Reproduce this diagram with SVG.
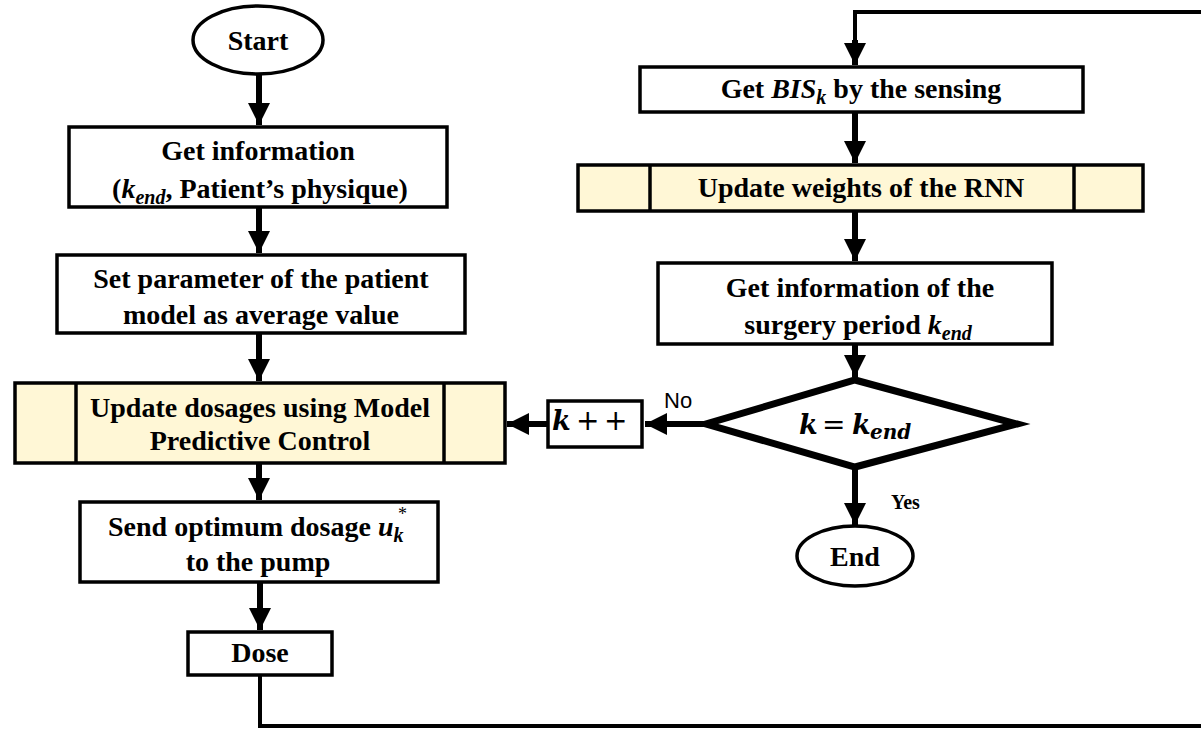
<svg xmlns="http://www.w3.org/2000/svg" width="1201" height="729" viewBox="0 0 1201 729">
<style>
.box{fill:#ffffff;stroke:#000;stroke-width:3.5}
.pp{fill:#fff7d6;stroke:#000;stroke-width:3.5}
.sep{stroke:#000;stroke-width:3.5}
.term{fill:#ffffff;stroke:#000;stroke-width:3.5}
.dia{fill:#ffffff;stroke:#000;stroke-width:7;stroke-linejoin:miter}
.t{font-family:"Liberation Serif","Times New Roman",serif;font-weight:bold;font-size:28px;fill:#000;text-anchor:middle}
.ts{font-family:"Liberation Serif","Times New Roman",serif;font-weight:bold;font-size:28px;fill:#000}
.m{font-style:italic}
.sub{font-size:20px}
.mm{font-family:"DejaVu Serif",serif;font-weight:bold;font-style:italic;font-size:27px;fill:#000}
.op{font-family:"DejaVu Sans",sans-serif;font-weight:normal;font-style:normal;font-size:28px}
.msub{font-size:20px}
.conn{fill:none;stroke:#000;stroke-width:6}
.thin{fill:none;stroke:#000;stroke-width:4}
.no{font-family:"Liberation Sans",Arial,sans-serif;font-size:22px;fill:#000}
.yes{font-family:"Liberation Serif","Times New Roman",serif;font-weight:bold;font-size:20px;fill:#000}
</style>
<defs>
<marker id="ahv" viewBox="0 0 10 10" refX="10" refY="5" markerWidth="22" markerHeight="22" markerUnits="userSpaceOnUse" orient="auto">
<path d="M0,0 L10,5 L0,10 z" fill="#000"/>
</marker>
</defs>

<g id="connectors">
<path class="conn" d="M259,75 V125" marker-end="url(#ahv)"/>
<path class="conn" d="M259,208 V253" marker-end="url(#ahv)"/>
<path class="conn" d="M259,334 V381" marker-end="url(#ahv)"/>
<path class="conn" d="M259,464 V500" marker-end="url(#ahv)"/>
<path class="conn" d="M260,583 V630" marker-end="url(#ahv)"/>
<path class="thin" d="M260,676 V726 H1204 V12 H855 V50"/>
<path class="conn" d="M855,40 V65" marker-end="url(#ahv)"/>
<path class="conn" d="M855,113 V163" marker-end="url(#ahv)"/>
<path class="conn" d="M855,212 V261" marker-end="url(#ahv)"/>
<path class="conn" d="M855,345 V377" marker-end="url(#ahv)"/>
<path class="conn" d="M705,424 H645" marker-end="url(#ahv)"/>
<path class="conn" d="M548,424 H507" marker-end="url(#ahv)"/>
<path class="conn" d="M855,468 V525" marker-end="url(#ahv)"/>
<text class="no" x="664" y="408">No</text>
<text class="yes" x="891" y="509">Yes</text>
</g>

<g id="start">
<ellipse class="term" cx="258" cy="40" rx="65" ry="34"/>
<text class="t" x="258" y="50">Start</text>
</g>

<g id="get-info">
<rect class="box" x="69" y="127" width="378" height="80"/>
<text class="t" x="258" y="160">Get information</text>
<text class="t" x="260" y="198">(<tspan class="m">k</tspan><tspan class="m sub" dy="6">end</tspan><tspan dy="-6">, Patient’s physique)</tspan></text>
</g>

<g id="set-param">
<rect class="box" x="57" y="255" width="408" height="78"/>
<text class="t" x="261" y="288">Set parameter of the patient</text>
<text class="t" x="261" y="324">model as average value</text>
</g>

<g id="mpc">
<rect class="pp" x="15" y="383" width="490" height="80"/>
<line class="sep" x1="76" y1="383" x2="76" y2="463"/>
<line class="sep" x1="444" y1="383" x2="444" y2="463"/>
<text class="t" x="260" y="417">Update dosages using Model</text>
<text class="t" x="260" y="450">Predictive Control</text>
</g>

<g id="send">
<rect class="box" x="80" y="502" width="358" height="80"/>
<text class="ts" x="108" y="536">Send optimum dosage <tspan class="m">u</tspan><tspan class="m sub" dy="6">k</tspan></text>
<text class="ts" x="398" y="520" style="font-weight:normal;font-size:18px">*</text>
<text class="t" x="258" y="571">to the pump</text>
</g>

<g id="dose">
<rect class="box" x="188" y="632" width="144" height="43"/>
<text class="t" x="260" y="662">Dose</text>
</g>

<g id="get-bis">
<rect class="box" x="640" y="67" width="443" height="45"/>
<text class="t" x="861" y="98">Get <tspan class="m">BIS</tspan><tspan class="m sub" dy="6">k</tspan><tspan dy="-6"> by the sensing</tspan></text>
</g>

<g id="rnn">
<rect class="pp" x="578" y="165" width="565" height="46"/>
<line class="sep" x1="650" y1="165" x2="650" y2="211"/>
<line class="sep" x1="1074" y1="165" x2="1074" y2="211"/>
<text class="t" x="861" y="197">Update weights of the RNN</text>
</g>

<g id="surgery">
<rect class="box" x="658" y="263" width="394" height="81"/>
<text class="t" x="860" y="297">Get information of the</text>
<text class="t" x="858" y="334">surgery period <tspan class="m">k</tspan><tspan class="m sub" dy="6">end</tspan></text>
</g>

<g id="decision">
<polygon class="dia" points="855,380 1017,424 855,467 706,424"/>
<text class="mm" y="434"><tspan x="799">k</tspan><tspan class="op" x="822">=</tspan><tspan x="852">k</tspan><tspan class="msub" x="870" dy="5">end</tspan></text>
</g>

<g id="kpp">
<rect class="box" x="548" y="401" width="94" height="46"/>
<text class="mm" y="430"><tspan x="552">k</tspan><tspan class="op" x="576">+</tspan><tspan class="op" x="604">+</tspan></text>
</g>

<g id="end">
<ellipse class="term" cx="855" cy="556" rx="58" ry="30"/>
<text class="t" x="855" y="566">End</text>
</g>
</svg>
